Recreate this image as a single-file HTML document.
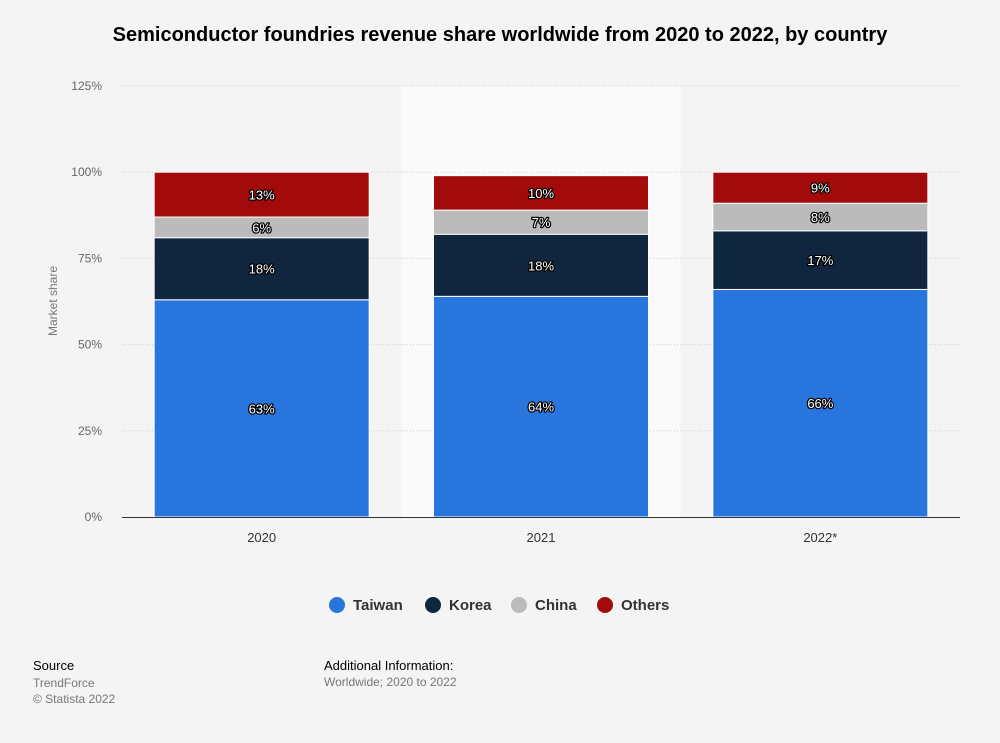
<!DOCTYPE html>
<html><head><meta charset="utf-8"><style>
body{margin:0;background:#f4f4f4;font-family:"Liberation Sans",Arial,sans-serif;}
#wrap{position:relative;width:1000px;height:743px;}
.t{position:absolute;}
</style></head><body>
<div id="wrap">
<div class="t" style="left:0;width:1000px;top:24px;text-align:center;font-size:20px;font-weight:bold;color:#000">Semiconductor foundries revenue share worldwide from 2020 to 2022, by country</div>
<svg id="chart" width="1000" height="743" style="position:absolute;left:0;top:0"></svg>
<div class="t" style="left:33px;top:658px;font-size:13px;color:#000">Source</div>
<div class="t" style="left:33px;top:675px;font-size:12px;color:#777;line-height:16px">TrendForce<br>© Statista 2022</div>
<div class="t" style="left:324px;top:658px;font-size:13px;color:#000">Additional Information:</div>
<div class="t" style="left:324px;top:675px;font-size:12px;color:#777">Worldwide; 2020 to 2022</div>
</div>
<script>
const categories=["2020","2021","2022*"];
const taiwan=[63,64,66];
const korea=[18,18,17];
const china=[6,7,8];
const others=[13,10,9];
const yTicks=[0,25,50,75,100,125];
const seriesNames=["Taiwan","Korea","China","Others"];
const seriesColors=["#2876dd","#10263e","#bbbbbb","#a30b0b"];
const series=[taiwan,korea,china,others];

const NS="http://www.w3.org/2000/svg";
const svg=document.getElementById('chart');
const x0=122,x1=960,y0=517,yTop=86;
const y=v=>y0-(v/125)*(y0-yTop);
const bandW=(x1-x0)/categories.length;
const xc=i=>x0+bandW*(i+0.5);
const barW=215;
function mk(tag,attrs){const e=document.createElementNS(NS,tag);for(const k in attrs)e.setAttribute(k,attrs[k]);svg.appendChild(e);return e;}

const hl=mk('rect',{x:x0+bandW,y:yTop,width:bandW,height:y0-yTop,fill:'#fafafa'});



yTicks.forEach(t=>{
  if(t>0){const g=mk('line',{x1:x0,x2:x1,y1:y(t),y2:y(t),stroke:'#cfcfcf','stroke-dasharray':'1,2'});
  
  }
  const l=mk('text',{x:102,y:y(t)+4,'text-anchor':'end','font-size':12,fill:'#666'});
  l.textContent=t+'%';
  
  
});
const yt=mk('text',{x:57,y:301,'text-anchor':'middle','font-size':12,fill:'#777',transform:'rotate(-90 57 301)'});
yt.textContent='Market share';



categories.forEach((c,i)=>{
  let acc=0;
  series.forEach((s,k)=>{
    const v=s[i];
    const r=mk('rect',{x:xc(i)-barW/2,y:y(acc+v),width:barW,height:y(acc)-y(acc+v),fill:seriesColors[k],stroke:'#fff','stroke-width':1});
    
    
    const ly=(y(acc)+y(acc+v))/2+5;
    const tl=mk('text',{x:xc(i),y:ly,'text-anchor':'middle','font-size':13,fill:'#fff',stroke:'#000','stroke-width':2.5,'paint-order':'stroke','stroke-linejoin':'round'});
    tl.textContent=v+'%';
    
    
    acc+=v;
  });
  const xl=mk('text',{x:xc(i),y:542,'text-anchor':'middle','font-size':13,fill:'#333'});
  xl.textContent=c;
  
  
});
const ax=mk('line',{x1:x0,x2:x1,y1:y0+0.5,y2:y0+0.5,stroke:'#333','stroke-width':1});



const legX=[337,433,519,605];
seriesNames.forEach((n,k)=>{
  const c=mk('circle',{cx:legX[k],cy:605,r:8,fill:seriesColors[k]});
  
  
  const t=mk('text',{x:legX[k]+16,y:610,'font-size':15,'font-weight':'bold',fill:'#333'});
  t.textContent=n;
  
  
});
</script>
</body></html>
